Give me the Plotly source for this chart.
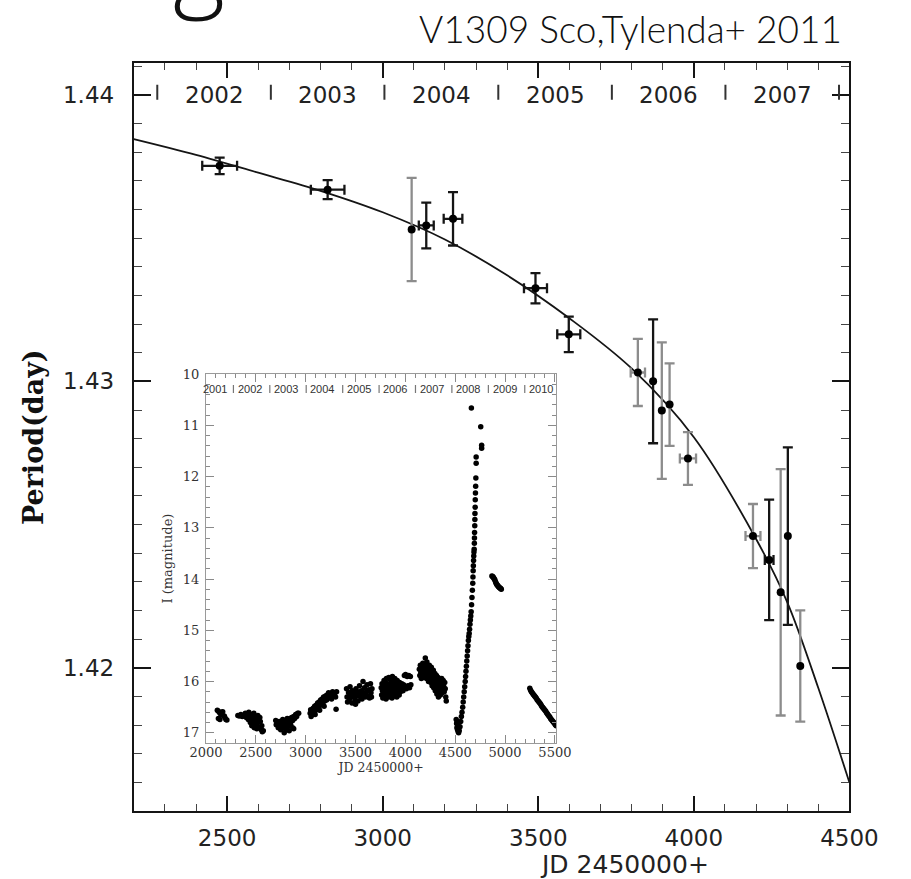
import plotly.graph_objects as go

# ---- Orbital period measurements (JD - 2450000) ----
obs_jd = [2476, 2823, 3093, 3140, 3226, 3491, 3598, 3820, 3869, 3897, 3922, 3981, 4190, 4242, 4279, 4302, 4342]
obs_period = [1.43752, 1.43669, 1.43530, 1.43544, 1.43567, 1.43325, 1.43164, 1.43031, 1.43000,
              1.42898, 1.42919, 1.42731, 1.42460, 1.42377, 1.42264, 1.42460, 1.42007]
obs_jd_err = [56, 54, 0, 24, 30, 37, 37, 23, 0, 0, 0, 26, 24, 14, 0, 0, 0]
obs_period_err = [0.00029, 0.00033, 0.00180, 0.00080, 0.00093, 0.00053, 0.00062, 0.00117, 0.00216,
                  0.00238, 0.00144, 0.00092, 0.00112, 0.00210, 0.00430, 0.00310, 0.00194]
obs_grey = [False, False, True, False, False, False, False, True, False,
            True, True, True, True, False, True, False, True]

# ---- Exponential period-decay fit ----
fit_jd = [2200, 2400, 2600, 2800, 3000, 3200, 3400, 3600, 3800, 4000, 4200, 4300, 4400, 4500]
fit_period = [1.43845, 1.43790, 1.43728, 1.43665, 1.43590, 1.43495, 1.43370, 1.43220,
              1.43045, 1.42805, 1.42450, 1.42230, 1.41930, 1.41600]

# ---- Year boundaries (JD - 2450000 at 1 January) ----
year_names = ["2001", "2002", "2003", "2004", "2005", "2006", "2007", "2008", "2009", "2010"]
year_start = [1910.5, 2275.5, 2640.5, 3005.5, 3371.5, 3736.5, 4101.5, 4466.5, 4832.5, 5197.5]
year_end = [2275.5, 2640.5, 3005.5, 3371.5, 3736.5, 4101.5, 4466.5, 4832.5, 5197.5, 5562.5]

# ---- OGLE I-band light curve, one list per observing season ----
lc_2001 = [(2114, 16.56), (2125, 16.58), (2137, 16.61), (2160, 16.60), (2168, 16.59), (2184, 16.67),
           (2150, 16.65), (2125, 16.72), (2140, 16.74), (2200, 16.74), (2210, 16.75), (2190, 16.70)]
lc_2002 = [(2320, 16.66), (2335, 16.67), (2350, 16.64), (2365, 16.68), (2380, 16.66), (2395, 16.62),
           (2405, 16.70), (2415, 16.64), (2425, 16.74), (2430, 16.60), (2440, 16.68), (2445, 16.80),
           (2450, 16.72), (2455, 16.64), (2460, 16.86), (2465, 16.76), (2470, 16.70), (2475, 16.82),
           (2480, 16.62), (2485, 16.90), (2490, 16.76), (2495, 16.68), (2500, 16.84), (2505, 16.72),
           (2510, 16.92), (2515, 16.80), (2520, 16.66), (2525, 16.74), (2530, 16.88), (2540, 16.70),
           (2545, 16.78), (2555, 16.94), (2565, 16.98), (2575, 16.96), (2560, 16.86)]
lc_2003 = [(2700, 16.76), (2705, 16.84), (2715, 16.80), (2725, 16.90), (2735, 16.78), (2745, 16.86),
           (2750, 16.94), (2760, 16.82), (2770, 16.74), (2775, 16.90), (2785, 17.00), (2790, 16.86),
           (2800, 16.78), (2805, 16.94), (2815, 16.72), (2820, 16.88), (2830, 16.80), (2835, 16.96),
           (2845, 16.72), (2850, 16.84), (2860, 16.70), (2870, 16.76), (2880, 16.68), (2890, 16.72),
           (2900, 16.64), (2910, 16.68), (2920, 16.62), (2930, 16.62), (2870, 16.90), (2880, 16.92)]
lc_2004 = [(3045, 16.62), (3050, 16.55), (3055, 16.68), (3060, 16.58), (3070, 16.64), (3075, 16.52),
           (3085, 16.60), (3090, 16.48), (3100, 16.56), (3105, 16.46), (3115, 16.52), (3120, 16.42),
           (3130, 16.50), (3135, 16.40), (3145, 16.46), (3150, 16.36), (3160, 16.44), (3165, 16.34),
           (3175, 16.40), (3180, 16.30), (3190, 16.38), (3200, 16.28), (3210, 16.36), (3215, 16.26),
           (3225, 16.32), (3230, 16.22), (3240, 16.30), (3250, 16.24), (3260, 16.34), (3270, 16.20),
           (3280, 16.28), (3290, 16.24), (3300, 16.30), (3305, 16.54), (3310, 16.20), (3095, 16.64),
           (3140, 16.56), (3185, 16.48)]
lc_2005 = [(3410, 16.14), (3415, 16.30), (3420, 16.40), (3430, 16.22), (3440, 16.34), (3445, 16.10),
           (3455, 16.26), (3465, 16.42), (3470, 16.18), (3480, 16.30), (3490, 16.22), (3495, 16.36),
           (3505, 16.14), (3510, 16.28), (3520, 16.20), (3525, 16.38), (3535, 16.24), (3540, 16.08),
           (3550, 16.30), (3560, 16.18), (3565, 16.34), (3575, 16.00), (3580, 16.24), (3590, 16.12),
           (3600, 16.30), (3610, 16.20), (3615, 16.06), (3625, 16.28), (3635, 16.16), (3640, 16.32),
           (3650, 16.04), (3655, 16.22), (3665, 16.14), (3660, 16.30), (3500, 16.44), (3460, 16.20)]
lc_2006 = [(3758, 16.12), (3762, 16.26), (3766, 16.04), (3770, 16.18), (3774, 16.32), (3778, 16.08),
           (3782, 16.22), (3786, 15.98), (3790, 16.14), (3794, 16.28), (3798, 16.02), (3802, 16.20),
           (3806, 16.34), (3810, 15.94), (3814, 16.10), (3818, 16.24), (3822, 16.04), (3826, 16.16),
           (3830, 16.30), (3834, 15.92), (3838, 16.06), (3842, 16.20), (3846, 16.12), (3850, 15.96),
           (3854, 16.26), (3858, 16.02), (3862, 16.16), (3866, 16.32), (3870, 15.90), (3874, 16.08),
           (3878, 16.22), (3882, 16.00), (3886, 16.14), (3890, 16.28), (3894, 15.94), (3898, 16.10),
           (3902, 16.24), (3906, 16.04), (3910, 16.18), (3914, 16.30), (3918, 15.98), (3922, 16.12),
           (3926, 16.22), (3930, 16.06), (3934, 16.16), (3938, 16.26), (3942, 16.02), (3946, 16.12),
           (3950, 16.20), (3955, 16.08), (3960, 16.16), (3965, 16.04), (3970, 16.12), (3976, 16.18),
           (3982, 16.06), (3990, 15.88), (3996, 16.10), (4002, 15.86), (4010, 16.14), (4018, 15.90),
           (4026, 16.08), (4034, 15.88), (4042, 16.12), (4050, 15.90), (4055, 16.06)]
lc_2007 = [(4140, 15.76), (4145, 15.88), (4150, 15.68), (4155, 15.82), (4160, 15.94), (4165, 15.72),
           (4170, 15.86), (4175, 15.64), (4180, 15.78), (4185, 15.92), (4190, 15.70), (4195, 15.84),
           (4200, 15.54), (4204, 15.66), (4208, 15.80), (4212, 15.94), (4216, 15.62), (4220, 15.74),
           (4224, 15.88), (4228, 15.70), (4232, 16.00), (4236, 15.80), (4240, 15.68), (4244, 15.92),
           (4248, 15.76), (4252, 15.86), (4256, 16.02), (4260, 15.72), (4264, 15.90), (4268, 16.08),
           (4272, 15.82), (4276, 15.96), (4280, 15.78), (4284, 16.12), (4288, 15.88), (4292, 16.02),
           (4296, 15.84), (4300, 16.18), (4304, 15.94), (4308, 16.08), (4312, 15.88), (4316, 16.24),
           (4320, 16.00), (4324, 16.14), (4328, 15.92), (4332, 16.30), (4336, 16.04), (4340, 16.18),
           (4344, 15.96), (4348, 16.10), (4352, 16.26), (4356, 16.00), (4360, 16.14), (4364, 15.94),
           (4368, 16.22), (4372, 16.06), (4376, 16.16), (4380, 15.98), (4385, 16.10), (4390, 16.20),
           (4395, 16.02), (4400, 16.14), (4405, 16.30), (4410, 16.38)]
lc_2008 = [(4510, 16.74), (4514, 16.82), (4517, 16.90), (4520, 16.78), (4523, 16.94), (4527, 16.86),
           (4530, 16.98), (4534, 17.00), (4540, 16.96), (4548, 16.88), (4555, 16.78), (4562, 16.68),
           (4568, 16.60), (4575, 16.50), (4580, 16.40), (4585, 16.30), (4590, 16.20), (4595, 16.10),
           (4600, 16.00), (4604, 15.90), (4608, 15.80), (4612, 15.70), (4616, 15.60), (4620, 15.50),
           (4624, 15.40), (4628, 15.30), (4632, 15.20), (4636, 15.12), (4640, 15.06), (4644, 14.98),
           (4648, 14.88), (4652, 14.80), (4656, 14.72), (4660, 14.64), (4664, 14.50), (4668, 14.36),
           (4672, 14.22), (4676, 14.08), (4678, 13.96), (4680, 13.84), (4682, 13.74), (4684, 13.64),
           (4686, 13.55), (4688, 13.47), (4690, 13.42), (4692, 13.30), (4693, 13.20), (4694, 13.09),
           (4696, 12.96), (4697, 12.84), (4698, 12.72), (4700, 12.60), (4701, 12.45), (4703, 12.32),
           (4705, 12.19), (4707, 12.03), (4710, 11.74), (4710, 11.62), (4765, 11.45), (4765, 11.39),
           (4756, 11.03), (4662, 10.66),
           (4868, 13.94), (4874, 13.95), (4880, 13.96), (4886, 13.98), (4892, 14.00), (4898, 14.02),
           (4904, 14.05), (4910, 14.08), (4916, 14.10), (4922, 14.12), (4928, 14.13), (4934, 14.15),
           (4940, 14.16), (4946, 14.17), (4952, 14.18), (4958, 14.19), (4962, 14.20)]
lc_2010 = [(5248, 16.13), (5256, 16.17), (5264, 16.20), (5272, 16.22), (5280, 16.24), (5288, 16.26),
           (5296, 16.28), (5304, 16.30), (5312, 16.32), (5320, 16.35), (5328, 16.37), (5336, 16.39),
           (5344, 16.41), (5352, 16.43), (5360, 16.45), (5368, 16.48), (5376, 16.50), (5384, 16.52),
           (5392, 16.54), (5400, 16.56), (5408, 16.58), (5416, 16.61), (5424, 16.63), (5432, 16.65),
           (5440, 16.67), (5448, 16.69), (5456, 16.72), (5464, 16.74), (5472, 16.76), (5480, 16.78),
           (5488, 16.80), (5496, 16.82), (5504, 16.84), (5512, 16.86)]

SANS = "DejaVu Sans"
SERIF = "DejaVu Serif"
INK = "#151515"
GREY = "#8c8c8c"

fig = go.Figure()

# period-decay fit
fig.add_trace(go.Scatter(x=fit_jd, y=fit_period, mode="lines",
                         line=dict(color=INK, width=1.8, shape="spline", smoothing=1.0),
                         hoverinfo="skip", showlegend=False, xaxis="x", yaxis="y"))

# period measurements with their uncertainties
for i in range(len(obs_jd)):
    col = GREY if obs_grey[i] else INK
    fig.add_trace(go.Scatter(
        x=[obs_jd[i]], y=[obs_period[i]], mode="markers",
        marker=dict(color="black", size=8),
        error_y=dict(type="data", array=[obs_period_err[i]], color=col, thickness=2.3, width=5),
        error_x=dict(type="data", array=[obs_jd_err[i]], color=col, thickness=2.3, width=5,
                     visible=obs_jd_err[i] > 0),
        showlegend=False, xaxis="x", yaxis="y"))

# inset light curve
seasons = [lc_2001, lc_2002, lc_2003, lc_2004, lc_2005, lc_2006, lc_2007, lc_2008, lc_2010]
lc_jd = [p[0] for s in seasons for p in s]
lc_mag = [p[1] for s in seasons for p in s]
fig.add_trace(go.Scatter(x=lc_jd, y=lc_mag, mode="markers",
                         marker=dict(color="black", size=5.5, line=dict(width=0)),
                         showlegend=False, xaxis="x2", yaxis="y2"))

W, H = 911, 879
main_x = [123 / W, 876.7 / W]
main_y = [(H - 810.7) / H, (H - 56.7) / H]
ins_x = [199 / W, 568 / W]
ins_y = [(H - 742) / H, (H - 370) / H]

main_axis = dict(showgrid=False, zeroline=False, showline=True, linecolor=INK, linewidth=2,
                 mirror="allticks", ticks="inside", tickcolor=INK, tickwidth=1.6,
                 tickfont=dict(family=SANS, size=23, color="#222"))
inset_axis = dict(showgrid=False, zeroline=False, showline=True, linecolor="#9a9a9a", linewidth=1.3,
                  mirror="allticks", ticks="inside", tickcolor="#8a8a8a", tickwidth=1.1,
                  tickfont=dict(family=SERIF, size=13, color="#333"))

shapes = []
annotations = []

# year bands along the top of the period panel
for name, a, b in zip(year_names, year_start, year_end):
    if 2200 < a < 4500:
        shapes.append(dict(type="line", xref="x", yref="y", ysizemode="pixel", yanchor=1.44,
                           x0=a, x1=a, y0=-5, y1=10, line=dict(color="#333", width=2)))
    mid = (a + b) / 2
    if 2200 < mid < 4500:
        annotations.append(dict(x=mid, y=1.44, xref="x", yref="y", text=name, showarrow=False,
                                font=dict(family=SANS, size=23, color="#222"), yanchor="middle"))

# year bands along the top of the light-curve panel
for name, a, b in zip(year_names, year_start, year_end):
    if 2000 < a < 5510:
        shapes.append(dict(type="line", xref="x2", yref="y2", ysizemode="pixel", yanchor=10,
                           x0=a, x1=a, y0=-19, y1=-11, line=dict(color="#777", width=1.2)))
    if name == "2001":
        annotations.append(dict(x=a + 365, y=10, xref="x2", yref="y2", text=name, showarrow=False,
                                xanchor="right", xshift=-4, yshift=-15, yanchor="middle",
                                font=dict(family="Liberation Sans", size=11, color="#333")))
    else:
        annotations.append(dict(x=(a + b) / 2 - 20, y=10, xref="x2", yref="y2", text=name,
                                showarrow=False, yshift=-15, yanchor="middle",
                                font=dict(family="Liberation Sans", size=11, color="#333")))

annotations.append(dict(x=871 / W, y=1 - 42 / H, xref="paper", yref="paper", xanchor="right",
                        yanchor="bottom", yshift=-4, text="V1309 Sco,Tylenda+ 2011", showarrow=False,
                        font=dict(family="Lato", size=37, color="#111", weight=300)))
annotations.append(dict(x=192 / W, y=1 - 22 / H, xref="paper", yref="paper", xanchor="center",
                        yanchor="bottom", text="g", showarrow=False,
                        font=dict(family="Open Sans", size=100, color="#111", weight=300)))
annotations.append(dict(x=640 / W, y=1 - 864 / H, xref="paper", yref="paper", xanchor="center",
                        yanchor="middle", text="JD 2450000+", showarrow=False,
                        font=dict(family=SANS, size=25, color="#222")))

fig.update_layout(
    width=W, height=H, margin=dict(l=0, r=0, t=0, b=0),
    paper_bgcolor="white", plot_bgcolor="white", showlegend=False,
    xaxis=dict(main_axis, domain=main_x, range=[2200, 4500], dtick=500, tick0=0, ticklen=15,
               ticklabelstandoff=5,
               minor=dict(dtick=100, ticks="inside", ticklen=7, tickwidth=1.3, tickcolor="#444")),
    yaxis=dict(main_axis, domain=main_y, range=[1.415, 1.4411], dtick=0.01, tick0=0, ticklen=17,
               tickformat=".2f", ticklabelstandoff=13,
               title=dict(text="Period(day)", standoff=12,
                          font=dict(family="DejaVu Serif", size=27, color="#111", weight="bold")),
               minor=dict(dtick=0.001, ticks="inside", ticklen=8, tickwidth=1.3, tickcolor="#444")),
    xaxis2=dict(inset_axis, domain=ins_x, range=[2000, 5514], anchor="y2", dtick=500, tick0=0,
                ticklen=8, ticklabelstandoff=-3,
                title=dict(text="JD 2450000+", standoff=4, font=dict(family=SERIF, size=12.5, color="#333")),
                minor=dict(dtick=100, ticks="inside", ticklen=4, tickwidth=1, tickcolor="#8a8a8a")),
    yaxis2=dict(inset_axis, domain=ins_y, range=[17.2, 10], anchor="x2", dtick=1, tick0=0,
                ticklen=8, ticklabelstandoff=3,
                title=dict(text="I (magnitude)", standoff=7, font=dict(family=SERIF, size=13, color="#333")),
                minor=dict(dtick=0.2, ticks="inside", ticklen=4, tickwidth=1, tickcolor="#8a8a8a")),
    shapes=shapes, annotations=annotations,
)

fig.write_html("out.html")
